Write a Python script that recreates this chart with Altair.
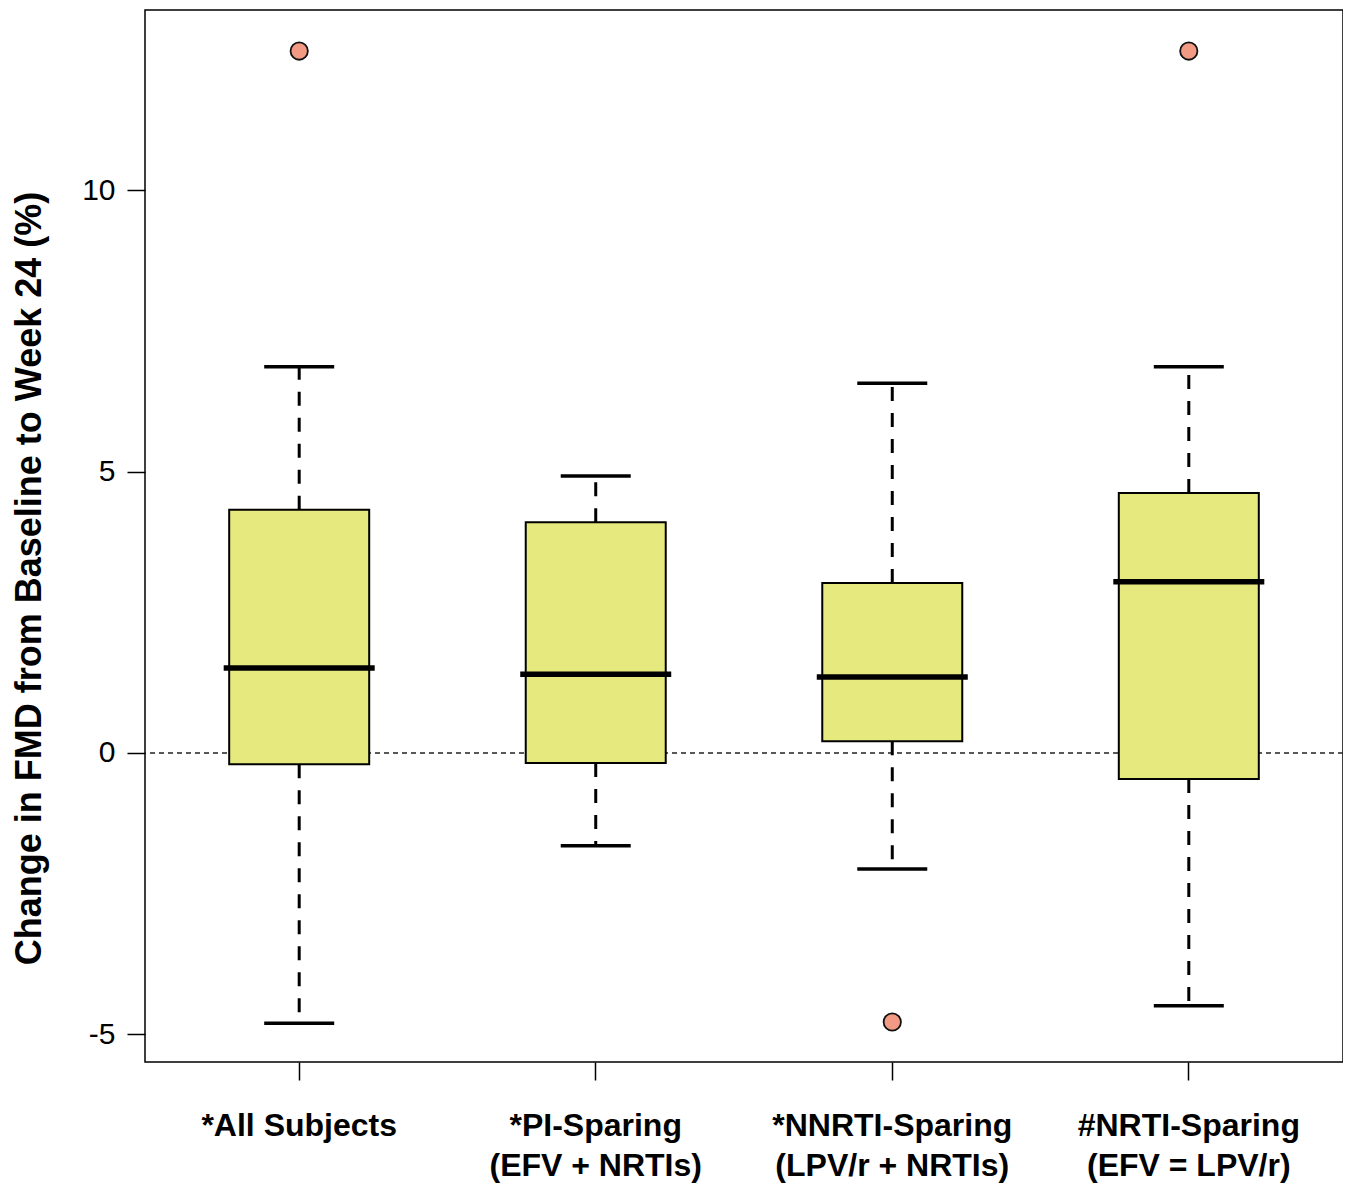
import altair as alt
import pandas as pd

groups = ["*All Subjects", "*PI-Sparing\n(EFV + NRTIs)", "*NNRTI-Sparing\n(LPV/r + NRTIs)", "#NRTI-Sparing\n(EFV = LPV/r)"]
lower = [-4.80, -1.65, -2.06, -4.49]
q1 = [-0.20, -0.18, 0.21, -0.46]
median = [1.51, 1.40, 1.35, 3.04]
q3 = [4.32, 4.10, 3.02, 4.62]
upper = [6.86, 4.92, 6.57, 6.86]
outlier_group = [groups[0], groups[2], groups[3]]
outlier_value = [12.47, -4.78, 12.47]
y_ticks = [-5, 0, 5, 10]

df = pd.DataFrame({"g": groups, "lower": lower, "q1": q1, "median": median, "q3": q3, "upper": upper})
dout = pd.DataFrame({"g": outlier_group, "v": outlier_value})
dzero = pd.DataFrame({"z": [0]})

FONT = "Liberation Sans"

xenc = alt.X("g:N", sort=groups, title=None,
             scale=alt.Scale(paddingInner=0, paddingOuter=0.02),
             axis=alt.Axis(labelExpr="split(datum.label, '\\n')", labelAngle=0, labelLimit=0,
                           labelFontSize=32, labelFontWeight="bold", labelFont=FONT,
                           labelColor="black", labelLineHeight=40, labelPadding=30,
                           tickSize=18, tickWidth=1.5, tickColor="black", domain=False))
yscale = alt.Scale(domain=[-5.49, 13.2], nice=False, zero=False)
yaxis = alt.Axis(values=y_ticks,
                 labelExpr="datum.value < 0 ? '-' + abs(datum.value) : '' + datum.value",
                 title="Change in FMD from Baseline to Week 24 (%)",
                 titleFontSize=36, titleFontWeight="bold", titleFont=FONT, titleColor="black",
                 titlePadding=33, titleLimit=0, titleY=568,
                 labelFontSize=30, labelFont=FONT, labelColor="black",
                 labelPadding=12, tickSize=18, tickWidth=1.5, tickColor="black",
                 domain=False, grid=False)

zero = alt.Chart(dzero).mark_rule(strokeDash=[5, 4], strokeWidth=1.3, color="#222").encode(
    y=alt.Y("z:Q", scale=yscale, axis=yaxis))

base = alt.Chart(df)
wh_up = base.mark_rule(strokeDash=[14, 12], strokeWidth=3, color="black").encode(
    x=xenc, y=alt.Y("q3:Q", scale=yscale), y2="upper:Q")
wh_lo = base.mark_rule(strokeDash=[14, 12], strokeWidth=3, color="black").encode(
    x=xenc, y=alt.Y("q1:Q", scale=yscale), y2="lower:Q")
cap_up = base.mark_tick(size=70, thickness=3.5, color="black", opacity=1).encode(
    x=xenc, y=alt.Y("upper:Q", scale=yscale))
cap_lo = base.mark_tick(size=70, thickness=3.5, color="black", opacity=1).encode(
    x=xenc, y=alt.Y("lower:Q", scale=yscale))
box = base.mark_bar(size=140, fill="#E6E97E", stroke="black", strokeWidth=2).encode(
    x=xenc, y=alt.Y("q1:Q", scale=yscale), y2="q3:Q")
med = base.mark_tick(size=151, thickness=5.5, color="black", opacity=1).encode(
    x=xenc, y=alt.Y("median:Q", scale=yscale))
outl = alt.Chart(dout).mark_point(filled=True, fill="#F39A85", stroke="#111", strokeWidth=1.8,
                                  size=300, opacity=1).encode(
    x=xenc, y=alt.Y("v:Q", scale=yscale))

chart = alt.layer(zero, wh_up, wh_lo, cap_up, cap_lo, box, med, outl).properties(
    width=1198, height=1052,
    background="white",
    autosize=alt.AutoSizeParams(type="none"),
    padding={"left": 137, "top": 2, "right": 0, "bottom": 121},
).configure_view(stroke="black", strokeWidth=1.5)

chart.save("out.html", embed_options={"renderer": "svg", "actions": False})
